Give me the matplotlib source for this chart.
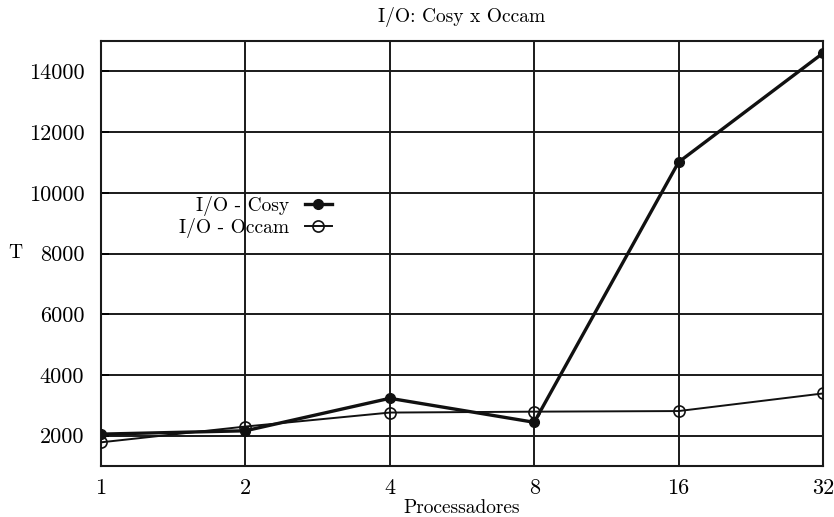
import matplotlib
matplotlib.use("Agg")
import matplotlib.pyplot as plt
from matplotlib.ticker import FixedLocator, FixedFormatter

processors = [1, 2, 4, 8, 16, 32]
tick_labels = ["1", "2", "4", "8", "16", "32"]
cosy = [2050, 2160, 3230, 2440, 11010, 14600]
occam = [1780, 2300, 2760, 2790, 2810, 3390]
y_ticks = [2000, 4000, 6000, 8000, 10000, 12000, 14000]

plt.rcParams['font.family'] = ['cmr10', 'DejaVu Serif']
plt.rcParams['axes.unicode_minus'] = False

fig = plt.figure(figsize=(8.34, 5.17), dpi=100)
ax = fig.add_axes([101/834, 51/517, 722/834, 425/517])

ax.plot(processors, cosy, color='#111111', lw=2.4, marker='o', ms=7,
        mfc='#111111', mec='#111111', label='I/O - Cosy', zorder=4)
ax.plot(processors, occam, color='#111111', lw=1.4, marker='o', ms=8,
        mfc='none', mec='#111111', mew=1.2, label='I/O - Occam', zorder=3)

ax.set_xscale('log', base=2)
ax.set_xlim(1, 32)
ax.set_ylim(1000, 15000)
ax.xaxis.set_major_locator(FixedLocator(processors))
ax.xaxis.set_major_formatter(FixedFormatter(tick_labels))
ax.xaxis.set_minor_locator(FixedLocator([]))
ax.set_yticks(y_ticks)
ax.set_yticklabels([str(v) for v in y_ticks])

ax.grid(True, color='#1a1a1a', lw=1.4)
ax.set_axisbelow(True)
for s in ax.spines.values():
    s.set_color('#1a1a1a')
    s.set_linewidth(1.5)

ax.tick_params(axis='y', direction='in', length=6, width=1.2, pad=12, labelsize=16)
ax.tick_params(axis='x', length=0, pad=9, labelsize=16)

ax.set_title('I/O: Cosy x Occam', fontsize=14, pad=14)
ax.set_xlabel('Processadores', fontsize=14, labelpad=1)
ax.set_ylabel('T', fontsize=14, rotation=0, va='center')
ax.yaxis.set_label_coords(-0.118, (466-253)/425)

leg = ax.legend(loc='upper right', bbox_to_anchor=((332-101)/722, (466-196)/425),
                frameon=False, markerfirst=False, fontsize=14, borderpad=0,
                borderaxespad=0, labelspacing=0.1, handlelength=1.4,
                handletextpad=0.8)

fig.savefig('out.png', dpi=100)
